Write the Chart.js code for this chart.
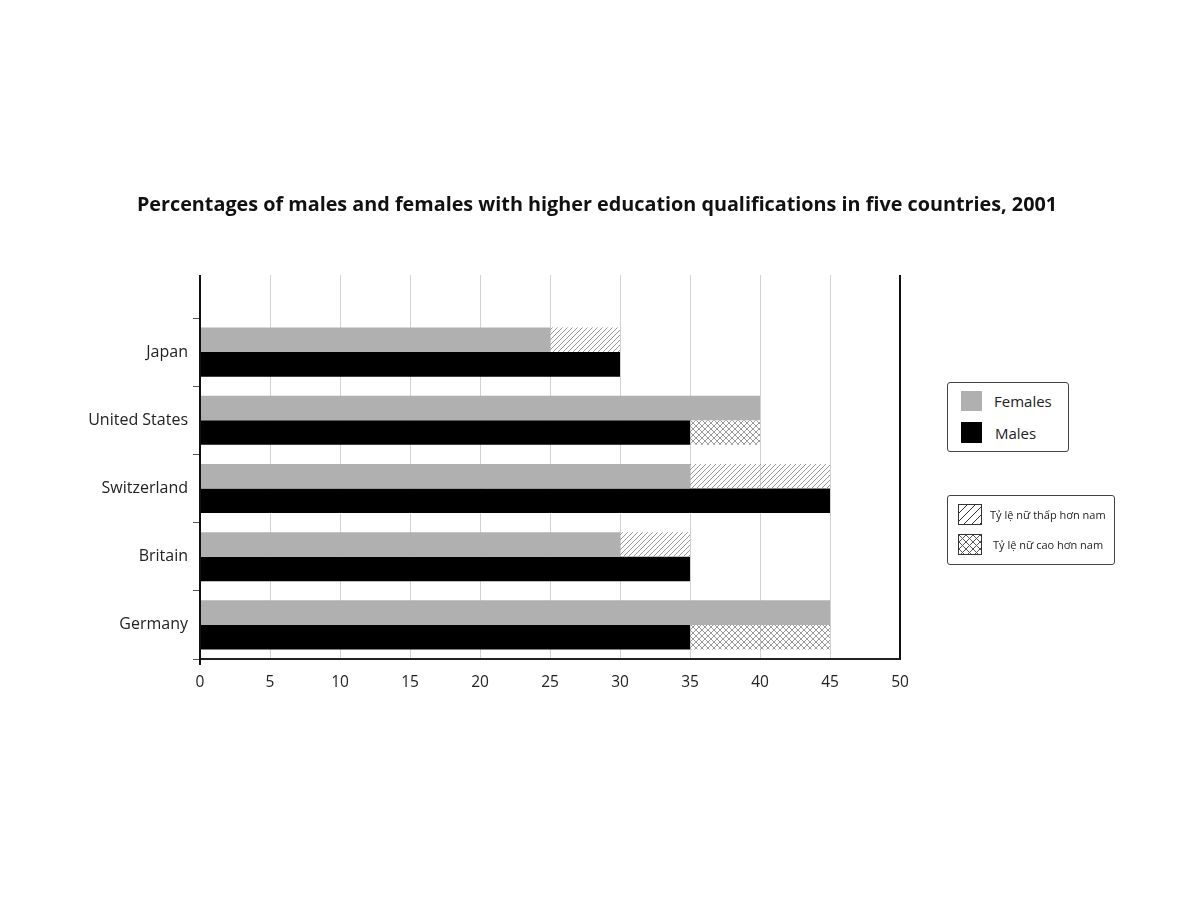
<!DOCTYPE html>
<html>
<head>
<meta charset="utf-8">
<script src="https://cdn.jsdelivr.net/npm/chart.js@4"></script>
<style>
  body { margin: 0; background: #fff; font-family: "Open Sans", sans-serif; }
  #wrap { position: relative; width: 1200px; height: 897px; }
  #title { position: absolute; left: 0; width: 1194px; top: 190px; text-align: center; font-size: 19.8px; font-weight: 700; color: #111; white-space: nowrap; }
  .legend { position: absolute; border: 1.5px solid #444; border-radius: 3px; background: #fff; box-sizing: border-box; }
  .item { position: absolute; display: flex; align-items: center; color: #222; }
  .sw { display: inline-block; box-sizing: border-box; }
  .sw canvas { display: block; }
</style>
</head>
<body>
<div id="wrap">
  <canvas id="chart" width="1200" height="897"></canvas>
  <div id="title">Percentages of males and females with higher education qualifications in five countries, 2001</div>

  <div class="legend" style="left:947px; top:382px; width:122px; height:70px;">
    <div class="item" style="left:13px; top:8px; font-size:15px;">
      <span class="sw" style="width:21px; height:20px; background:#b0b0b0;"></span>
      <span style="margin-left:12px;">Females</span>
    </div>
    <div class="item" style="left:13px; top:39px; font-size:15px;">
      <span class="sw" style="width:21px; height:21px; background:#000;"></span>
      <span style="margin-left:13px;">Males</span>
    </div>
  </div>

  <div class="legend" style="left:947px; top:495px; width:168px; height:70px;">
    <div class="item" style="left:10px; top:8px; font-size:11px;">
      <span class="sw" style="width:24px; height:21px; border:1px solid #333;"><canvas id="swLow" width="22" height="19"></canvas></span>
      <span style="margin-left:8px;">Tỷ lệ nữ thấp hơn nam</span>
    </div>
    <div class="item" style="left:10px; top:38px; font-size:11px;">
      <span class="sw" style="width:24px; height:21px; border:1px solid #333;"><canvas id="swHigh" width="22" height="19"></canvas></span>
      <span style="margin-left:11px;">Tỷ lệ nữ cao hơn nam</span>
    </div>
  </div>
</div>

<script>
// ========================
// DATA
// ========================
const countries = ["Japan", "United States", "Switzerland", "Britain", "Germany"];
const females = [25, 40, 35, 30, 45];
const males = [30, 35, 45, 35, 35];
// hatched gap on the female row (female lower than male)
const femaleGap = [5, null, 10, 5, null];
// cross-hatched gap on the male row (female higher than male)
const maleGap = [null, 5, null, null, 10];
const xTicks = [0, 5, 10, 15, 20, 25, 30, 35, 40, 45, 50];

Chart.defaults.font.family = '"Open Sans", sans-serif';
Chart.defaults.color = '#222';

// ========================
// HATCH PATTERNS
// ========================
function diagonalTile(size, color) {
    const c = document.createElement('canvas');
    c.width = size; c.height = size;
    const g = c.getContext('2d');
    g.strokeStyle = color;
    g.lineWidth = 1;
    g.beginPath();
    g.moveTo(0, size); g.lineTo(size, 0);
    g.moveTo(-2, 2); g.lineTo(2, -2);
    g.moveTo(size - 2, size + 2); g.lineTo(size + 2, size - 2);
    g.stroke();
    return c;
}

function crossTile(size, color) {
    const c = document.createElement('canvas');
    c.width = size; c.height = size;
    const g = c.getContext('2d');
    g.strokeStyle = color;
    g.lineWidth = 1;
    g.beginPath();
    g.moveTo(0, size); g.lineTo(size, 0);
    g.moveTo(0, 0); g.lineTo(size, size);
    g.stroke();
    return c;
}

const ctx = document.getElementById('chart').getContext('2d');
const lowPattern = ctx.createPattern(diagonalTile(5, '#999'), 'repeat');
const highPattern = ctx.createPattern(crossTile(6, '#9a9a9a'), 'repeat');

function fillSwatch(id, tile) {
    const g = document.getElementById(id).getContext('2d');
    g.fillStyle = g.createPattern(tile, 'repeat');
    g.fillRect(0, 0, 22, 19);
}
// legend swatches use coarser hatching
fillSwatch('swLow', diagonalTile(8, '#333'));
fillSwatch('swHigh', crossTile(7, '#555'));

// ========================
// FRAME EXTENSION PLUGIN
// gridlines and frame continue above the first category
// ========================
const frameExtension = {
    id: 'frameExtension',
    beforeDatasetsDraw(chart) {
        const { ctx, chartArea, scales: { x } } = chart;
        const top = chartArea.top - 43;
        ctx.save();
        ctx.strokeStyle = '#d2d2d2';
        ctx.lineWidth = 1;
        x.ticks.forEach(t => {
            const px = Math.round(x.getPixelForValue(t.value)) + 0.5;
            ctx.beginPath();
            ctx.moveTo(px, top);
            ctx.lineTo(px, chartArea.top);
            ctx.stroke();
        });
        ctx.restore();
    },
    afterDraw(chart) {
        const { ctx, chartArea, scales: { x } } = chart;
        const top = chartArea.top - 43;
        ctx.save();
        ctx.strokeStyle = '#111';
        ctx.lineWidth = 2;
        // left axis
        ctx.beginPath();
        ctx.moveTo(chartArea.left, top);
        ctx.lineTo(chartArea.left, chartArea.bottom + 6);
        ctx.stroke();
        // right frame
        const right = Math.round(x.getPixelForValue(50));
        ctx.beginPath();
        ctx.moveTo(right, top);
        ctx.lineTo(right, chartArea.bottom);
        ctx.stroke();
        ctx.restore();
    }
};

// ========================
// CHART
// ========================
new Chart(ctx, {
    type: 'bar',
    data: {
        labels: countries,
        datasets: [
            { label: 'Females', data: females, stack: 'f', backgroundColor: '#b0b0b0' },
            { label: 'Tỷ lệ nữ thấp hơn nam', data: femaleGap, stack: 'f', backgroundColor: lowPattern },
            { label: 'Males', data: males, stack: 'm', backgroundColor: '#000' },
            { label: 'Tỷ lệ nữ cao hơn nam', data: maleGap, stack: 'm', backgroundColor: highPattern }
        ]
    },
    options: {
        indexAxis: 'y',
        responsive: false,
        animation: false,
        categoryPercentage: 0.72,
        barPercentage: 1.0,
        layout: { padding: { left: 0, right: 300, top: 318, bottom: 198 } },
        plugins: {
            legend: { display: false },
            tooltip: { enabled: false }
        },
        scales: {
            x: {
                min: 0,
                max: 50,
                afterBuildTicks: axis => { axis.ticks = xTicks.map(v => ({ value: v })); },
                afterFit: axis => { axis.height = 40; },
                grid: {
                    color: '#d2d2d2',
                    lineWidth: 1,
                    tickLength: 6,
                    tickColor: c => (c.index === 0 ? '#111' : 'rgba(0,0,0,0)')
                },
                border: { color: '#222', width: 2 },
                ticks: { color: '#222', font: { size: 15.5 }, padding: 8 }
            },
            y: {
                afterFit: axis => { axis.width = 200; },
                grid: {
                    offset: true,
                    drawOnChartArea: false,
                    tickLength: 7,
                    tickColor: '#555',
                    lineWidth: 1
                },
                border: { color: '#111', width: 2 },
                ticks: { color: '#222', font: { size: 16 }, padding: 5 }
            }
        }
    },
    plugins: [frameExtension]
});
</script>
</body>
</html>
